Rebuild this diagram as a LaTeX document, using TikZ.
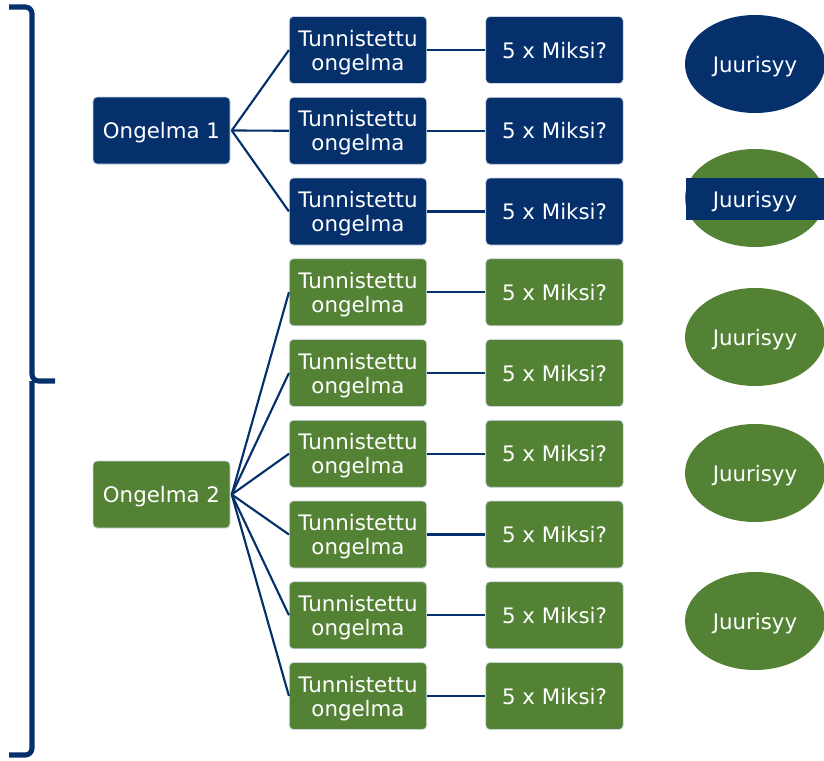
\documentclass[tikz,border=0pt]{standalone}
\usepackage{fontspec}
\setmainfont{DejaVu Sans}
\usetikzlibrary{shapes.geometric}
\definecolor{navy}{RGB}{5,48,108}
\definecolor{leaf}{RGB}{84,130,53}
\begin{document}
\begin{tikzpicture}[x=0.75pt,y=-0.75pt,
  box/.style={rectangle, rounded corners=3pt, draw=white!80!navy, line width=0.6pt,
    text=white, minimum width=103pt, minimum height=50.25pt, align=center, inner sep=0pt,
    text depth=0pt, font=\fontsize{16}{18}\selectfont},
  bluebox/.style={box, fill=navy},
  greenbox/.style={box, fill=leaf},
  conn/.style={draw=navy, line width=1.6pt},
  rootc/.style={ellipse, minimum width=105pt, minimum height=73.5pt, inner sep=0pt,
    text=white, text depth=0pt, font=\fontsize{16}{18}\selectfont},
  lbl/.style={text=white, inner sep=0pt, text depth=0pt, font=\fontsize{16}{18}\selectfont},
  bracel/.style={draw=navy, line width=3.8pt, rounded corners=5pt}
]
\clip (0,0) rectangle (824,760);

% brace
\coordinate (btop) at (9,7);
\coordinate (bmid) at (32,381);
\coordinate (btip) at (55,381);
\coordinate (bbot) at (9,755);
\draw[bracel] (btop) -| (bmid) -- (btip);
\draw[bracel] (bbot) -| (bmid);

% problems
\node[bluebox, minimum width=102.75pt] (o1) at (161.5,130.5) {Ongelma 1};
\node[greenbox, minimum width=102.75pt] (o2) at (161.5,494.5) {Ongelma 2};

% identified problems and 5 whys
\foreach \i in {1,...,9} {
  \pgfmathsetmacro\yy{50+80.75*(\i-1)}
  \ifnum\i<4
    \node[bluebox] (t\i) at (358,\yy) {Tunnistettu\\ongelma};
    \node[bluebox] (m\i) at (554.5,\yy) {5 x Miksi?};
  \else
    \node[greenbox] (t\i) at (358,\yy) {Tunnistettu\\ongelma};
    \node[greenbox] (m\i) at (554.5,\yy) {5 x Miksi?};
  \fi
  \draw[conn] (t\i.east) -- (m\i.west);
}
\foreach \i in {1,2,3} { \draw[conn] ([xshift=1pt]o1.east) -- (t\i.west); }
\foreach \i in {4,...,9} { \draw[conn] ([xshift=1pt]o2.east) -- (t\i.west); }

% root causes
\node[rootc, fill=navy] (e1) at (755,64) {Juurisyy};
\node[rootc, fill=leaf] (e2) at (755,198) {};
\node[rectangle, fill=navy, minimum width=108pt, minimum height=31.5pt, inner sep=0pt] (band) at (758,199) {};
\node[lbl] (j2) at (755,199) {Juurisyy};
\node[rootc, fill=leaf] (e3) at (755,337) {Juurisyy};
\node[rootc, fill=leaf] (e4) at (755,473) {Juurisyy};
\node[rootc, fill=leaf] (e5) at (755,621) {Juurisyy};
\end{tikzpicture}
\end{document}
